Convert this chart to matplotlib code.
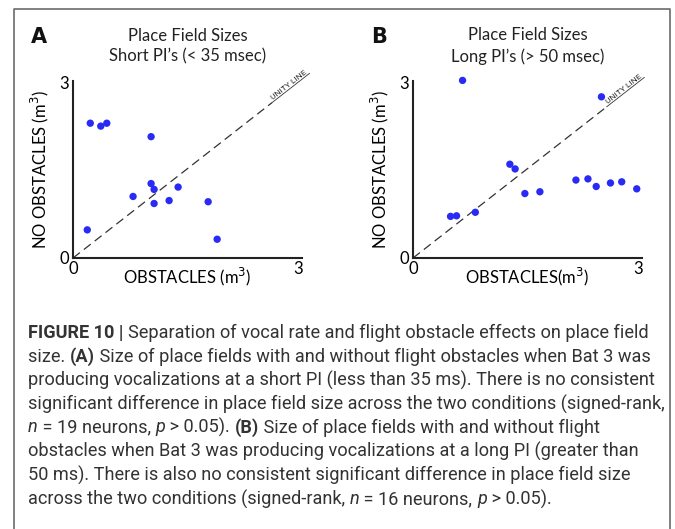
import numpy as np
import matplotlib
matplotlib.use("Agg")
import matplotlib.pyplot as plt
from matplotlib.lines import Line2D

# ---------------------------
# Data
# ---------------------------
a_obst = [0.23, 0.37, 0.45, 1.04, 1.04, 1.08, 1.40, 0.80, 1.28, 1.08, 1.80, 0.19, 1.92]
a_no_obst = [2.30, 2.25, 2.30, 2.07, 1.27, 1.17, 1.21, 1.05, 0.98, 0.93, 0.96, 0.48, 0.32]

b_obst = [0.66, 2.51, 1.29, 1.36, 2.17, 2.33, 2.44, 2.63, 2.78, 2.98, 1.49, 1.69, 0.50, 0.58, 0.83]
b_no_obst = [3.03, 2.75, 1.60, 1.52, 1.33, 1.35, 1.22, 1.28, 1.30, 1.18, 1.10, 1.13, 0.71, 0.72, 0.78]

panel_letters = ["A", "B"]
panel_titles = ["Place Field Sizes\nShort PI\u2019s (< 35 msec)",
                "Place Field Sizes\nLong PI\u2019s (> 50 msec)"]
x_labels = ["OBSTACLES (m$^3$)", "OBSTACLES(m$^3$)"]
y_label = "NO OBSTACLES (m$^3$)"

caption_lines = [
    [("FIGURE 10 | ", "bold", "normal"),
     ("Separation of vocal rate and flight obstacle effects on place field", "normal", "normal")],
    [("size. ", "normal", "normal"), ("(A)", "bold", "normal"),
     (" Size of place fields with and without flight obstacles when Bat 3 was", "normal", "normal")],
    [("producing vocalizations at a short PI (less than 35 ms). There is no consistent", "normal", "normal")],
    [("significant difference in place field size across the two conditions (signed-rank,", "normal", "normal")],
    [("n", "normal", "italic"), (" = 19 neurons, ", "normal", "normal"), ("p", "normal", "italic"),
     (" > 0.05). ", "normal", "normal"), ("(B)", "bold", "normal"),
     (" Size of place fields with and without flight", "normal", "normal")],
    [("obstacles when Bat 3 was producing vocalizations at a long PI (greater than", "normal", "normal")],
    [("50 ms). There is also no consistent significant difference in place field size", "normal", "normal")],
    [("across the two conditions (signed-rank, ", "normal", "normal"), ("n", "normal", "italic"),
     (" = 16 neurons, ", "normal", "normal"), ("p", "normal", "italic"), (" > 0.05).", "normal", "normal")],
]

W, H = 675, 529
fig = plt.figure(figsize=(W / 100, H / 100), dpi=100)
fig.patch.set_facecolor("white")

title_font = "Lato"
dot_color = "#2a2af5"

# frame round the whole figure (open at the bottom)
fx = lambda px: px / W
fy = lambda py: 1 - py / H
fig.add_artist(Line2D([fx(14), fx(14), fx(670), fx(670)],
                      [0, fy(9), fy(9), 0], color="#6b6b6b", lw=1.2))

axes_px = [(73, 302), (413, 642)]
data = [(a_obst, a_no_obst), (b_obst, b_no_obst)]
line_end = [2.65, 2.58]

for i, (x0, x1) in enumerate(axes_px):
    ax = fig.add_axes([fx(x0), fy(258), (x1 - x0) / W, (258 - 81) / H])
    ax.set_xlim(0, 3.05)
    ax.set_ylim(0, 3.02)
    for s in ["top", "right"]:
        ax.spines[s].set_visible(False)
    for s in ["left", "bottom"]:
        ax.spines[s].set_linewidth(1.5)
        ax.spines[s].set_color("#222222")
    ax.set_xticks([0, 3])
    ax.set_yticks([0, 3])
    ax.set_xticklabels(["0", "3"], fontsize=12, family=title_font)
    ax.set_yticklabels(["0", "3"], fontsize=12, family=title_font)
    ax.tick_params(axis="x", length=0, pad=2)
    ax.tick_params(axis="y", length=0, pad=3)
    ax.set_xlabel(x_labels[i], fontsize=12, family=title_font, labelpad=-8)
    ax.set_ylabel(y_label, fontsize=12, family=title_font, labelpad=6)

    # unity line
    e = line_end[i]
    ax.plot([0, e], [0, e], color="#333333", lw=0.9, dashes=(7, 4))
    ax.plot([e, e + 0.5], [e, e + 0.5], color="#333333", lw=0.6, clip_on=False)
    fig.canvas.draw()
    p0 = ax.transData.transform((0, 0))
    p1 = ax.transData.transform((1, 1))
    ang = np.degrees(np.arctan2(p1[1] - p0[1], p1[0] - p0[0]))
    ax.text(e + 0.02, e + 0.04, "UNITY LINE", rotation=ang, rotation_mode="anchor",
            ha="left", va="bottom", fontsize=6, family="Roboto",
            color="#222222", clip_on=False)

    xs, ys = data[i]
    ax.scatter(xs, ys, s=28, color=dot_color, edgecolors="none", zorder=3, clip_on=False)

    cx = (x0 + x1) / 2
    fig.text(fx(cx), fy(46), panel_titles[i], ha="center", va="center",
             fontsize=12, family=title_font, linespacing=1.35, color="#222222")
    fig.text(fx(x0 - 42), fy(37), panel_letters[i], ha="left", va="center",
             fontsize=15, fontweight="bold", family="DejaVu Sans", color="#111111")

# ---------------------------
# Caption, run by run
# ---------------------------
fig.canvas.draw()
renderer = fig.canvas.get_renderer()
cap_font = "Roboto"


def line_width(runs, size):
    total = 0
    for txt, wt, st in runs:
        t = fig.text(0, 0, txt, fontsize=size, family=cap_font, fontweight=wt, fontstyle=st)
        total += t.get_window_extent(renderer).width
        t.remove()
    return total


# fit the longest line to its width in the reference (~633 px)
cap_size = 12 * 633 / line_width(caption_lines[3], 12)

line_y = [333, 356.5, 380, 404, 427.5, 451, 475, 499]
for runs, ly in zip(caption_lines, line_y):
    x = fx(28)
    for txt, wt, st in runs:
        t = fig.text(x, fy(ly), txt, ha="left", va="center", fontsize=cap_size,
                     family=cap_font, fontweight=wt, fontstyle=st, color="#333333")
        bb = t.get_window_extent(renderer)
        x += bb.width / W

fig.savefig("out.png", dpi=100)
